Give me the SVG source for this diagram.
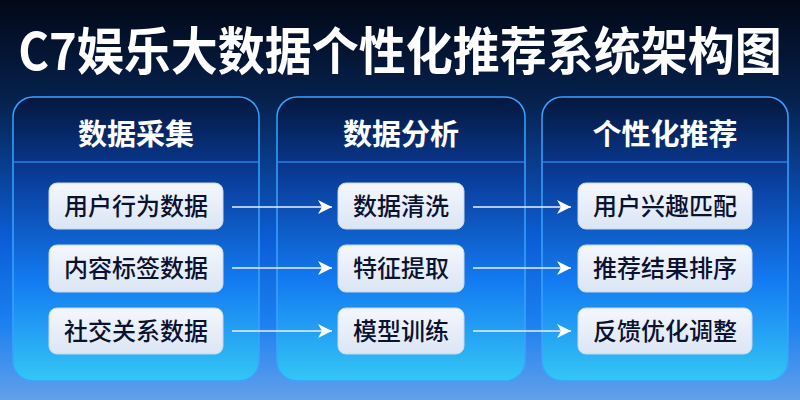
<svg xmlns="http://www.w3.org/2000/svg" width="800" height="400" viewBox="0 0 800 400">
<defs>
<linearGradient id="bg" x1="0" y1="0" x2="0" y2="1">
<stop offset="0" stop-color="#020817"/>
<stop offset="0.25" stop-color="#06214d"/>
<stop offset="0.6" stop-color="#0b5ed8"/>
<stop offset="0.8" stop-color="#1a7ff0"/>
<stop offset="1" stop-color="#62a0ea"/>
</linearGradient>
<linearGradient id="panel" x1="0" y1="0" x2="0" y2="1">
<stop offset="0" stop-color="#04173d"/>
<stop offset="0.3" stop-color="#0a3f9f"/>
<stop offset="0.65" stop-color="#137bf2"/>
<stop offset="1" stop-color="#35c6f5"/>
</linearGradient>
<linearGradient id="item" x1="0" y1="0" x2="0" y2="1">
<stop offset="0" stop-color="#f4f7fd"/>
<stop offset="1" stop-color="#dbe5f4"/>
</linearGradient>
<marker id="arr" viewBox="0 0 16 16" refX="15" refY="8" markerWidth="16" markerHeight="16" markerUnits="userSpaceOnUse" orient="auto">
<path d="M1,1 L15,8 L1,15 L5,8 Z" fill="#ffffff"/>
</marker>
</defs>
<style>
.title{font-family:"Noto Sans CJK SC","Liberation Sans",sans-serif;font-weight:bold;fill:#ffffff;}
.ph{font-family:"Noto Sans CJK SC",sans-serif;font-weight:bold;font-size:29px;fill:#ffffff;text-anchor:middle;}
.panel{fill:url(#panel);stroke:#3aa2ff;stroke-width:1.5;}
.div{stroke:#2a7fe8;stroke-width:1.5;}
.item{fill:url(#item);stroke:#c8d6ee;stroke-width:1;}
.it{font-family:"Noto Sans CJK SC",sans-serif;font-weight:500;font-size:24px;fill:#0b1230;text-anchor:middle;}
.conn{stroke:#e8f0ff;stroke-width:1.6;fill:none;marker-end:url(#arr);}
</style>
<rect width="800" height="400" fill="url(#bg)"/>
<text class="title" x="400" y="0" font-size="47" text-anchor="middle" transform="translate(0,70) scale(1,1.08)">C7娱乐大数据个性化推荐系统架构图</text>

<g id="panel-collect">
<rect class="panel" x="13" y="97" width="246" height="284" rx="20"/>
<line class="div" x1="14" y1="162" x2="258" y2="162"/>
<text class="ph" x="136" y="145">数据采集</text>
</g>
<g id="panel-analyze">
<rect class="panel" x="277" y="97" width="248" height="284" rx="20"/>
<line class="div" x1="278" y1="162" x2="524" y2="162"/>
<text class="ph" x="401" y="145">数据分析</text>
</g>
<g id="panel-recommend">
<rect class="panel" x="542" y="97" width="246" height="284" rx="20"/>
<line class="div" x1="543" y1="162" x2="787" y2="162"/>
<text class="ph" x="665" y="145">个性化推荐</text>
</g>

<g id="n-user-behavior"><rect class="item" x="49" y="183" width="174" height="46" rx="8"/><text class="it" x="136" y="215">用户行为数据</text></g>
<g id="n-content-tags"><rect class="item" x="49" y="245" width="174" height="47" rx="8"/><text class="it" x="136" y="277">内容标签数据</text></g>
<g id="n-social"><rect class="item" x="49" y="308" width="174" height="46" rx="8"/><text class="it" x="136" y="340">社交关系数据</text></g>

<g id="n-clean"><rect class="item" x="338" y="183" width="126" height="46" rx="8"/><text class="it" x="401" y="215">数据清洗</text></g>
<g id="n-feature"><rect class="item" x="338" y="245" width="126" height="47" rx="8"/><text class="it" x="401" y="277">特征提取</text></g>
<g id="n-train"><rect class="item" x="338" y="308" width="126" height="46" rx="8"/><text class="it" x="401" y="340">模型训练</text></g>

<g id="n-match"><rect class="item" x="578" y="183" width="174" height="46" rx="8"/><text class="it" x="665" y="215">用户兴趣匹配</text></g>
<g id="n-rank"><rect class="item" x="578" y="245" width="174" height="47" rx="8"/><text class="it" x="665" y="277">推荐结果排序</text></g>
<g id="n-feedback"><rect class="item" x="578" y="308" width="174" height="46" rx="8"/><text class="it" x="665" y="340">反馈优化调整</text></g>

<g id="connectors">
<line class="conn" x1="232" y1="207" x2="332" y2="207"/>
<line class="conn" x1="232" y1="268" x2="332" y2="268"/>
<line class="conn" x1="232" y1="331" x2="332" y2="331"/>
<line class="conn" x1="473" y1="207" x2="571" y2="207"/>
<line class="conn" x1="473" y1="268" x2="571" y2="268"/>
<line class="conn" x1="473" y1="331" x2="571" y2="331"/>
</g>
</svg>
